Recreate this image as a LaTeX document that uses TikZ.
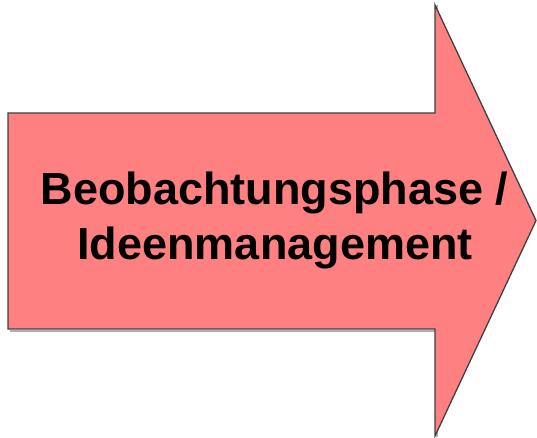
\documentclass[tikz,border=0pt]{standalone}
\usepackage{fontspec}
\setmainfont{Liberation Sans}
\begin{document}
\begin{tikzpicture}[x=1pt,y=1pt,
  arrowbody/.style={fill={rgb,255:red,255;green,128;blue,128}, draw={rgb,255:red,64;green,64;blue,64}, line width=1.3pt, line join=miter},
  arrowshade/.style={draw={rgb,255:red,175;green,175;blue,175}, line width=1.6pt},
  label/.style={font=\bfseries\fontsize{45}{55}\selectfont, text=black, inner sep=0pt, anchor=base}]
  \useasboundingbox (0,0) rectangle (537,438);
  % soft shadow offset down and to the right
  \draw[arrowshade] (10,107) -- (437,107) -- (437,0.5);
  \draw[arrowshade] (437,323) -- (437,433);
  % the block arrow
  \draw[arrowbody] (8,325) -- (435,325) -- (435,433) -- (536,217.5) -- (435,2) -- (435,109) -- (8,109) -- cycle;
  % caption inside the arrow
  \node[label] (title1) at (274.5,233) {Beobachtungsphase /};
  \node[label] (title2) at (275,178) {Ideenmanagement};
\end{tikzpicture}
\end{document}
